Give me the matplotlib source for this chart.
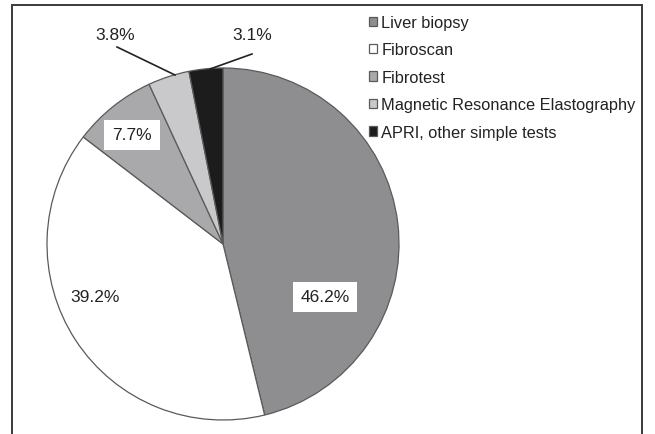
import matplotlib
matplotlib.use("Agg")
import matplotlib.pyplot as plt
from matplotlib.patches import Rectangle

plt.rcParams['font.family'] = ['Liberation Sans', 'DejaVu Sans']

categories = ["Liver biopsy", "Fibroscan", "Fibrotest",
              "Magnetic Resonance Elastography", "APRI, other simple tests"]
values = [46.2, 39.2, 7.7, 3.8, 3.1]
labels = ["46.2%", "39.2%", "7.7%", "3.8%", "3.1%"]
colors = ["#8e8e90", "#ffffff", "#a9a9ab", "#c9c9cb", "#1c1c1c"]

W, H = 655, 435
fig = plt.figure(figsize=(W / 100, H / 100), dpi=100)

# outer frame
fig.patches.append(Rectangle((12 / W, -0.01), (642 - 12) / W, 1 - 6 / H + 0.01,
                             transform=fig.transFigure, fill=False,
                             edgecolor="#3a3a3a", linewidth=1.4))

cx, cy, r = 223, 245, 176
ax = fig.add_axes([(cx - r) / W, (H - cy - r) / H, 2 * r / W, 2 * r / H])
wedges, _ = ax.pie(values, colors=colors, startangle=90, counterclock=False,
                   wedgeprops=dict(edgecolor="#5a5a5a", linewidth=0.9))
ax.set_xlim(-1, 1)
ax.set_ylim(-1, 1)
ax.set_aspect("equal")
ax.axis("off")

def d(px, py):
    return ((px - cx) / r, (cy - py) / r)

fs = 12.5
box = dict(boxstyle="square,pad=0.45", facecolor="white", edgecolor="none")
ax.text(*d(325, 298), labels[0], fontsize=fs, ha="center", va="center", color="#222222", bbox=box)
ax.text(*d(95, 297), labels[1], fontsize=fs, ha="center", va="center", color="#222222")
ax.text(*d(132, 136), labels[2], fontsize=fs, ha="center", va="center", color="#222222", bbox=box)
ax.text(*d(115, 36), labels[3], fontsize=fs, ha="center", va="center", color="#222222")
ax.text(*d(252, 36), labels[4], fontsize=fs, ha="center", va="center", color="#222222")
for (x0, y0), (x1, y1) in [((117, 48), (175, 76)), ((252, 55), (210, 70))]:
    a, b = d(x0, y0), d(x1, y1)
    ax.plot([a[0], b[0]], [a[1], b[1]], color="#222222", linewidth=1.2, clip_on=False)

fig.legend(wedges, categories, loc="upper left", bbox_to_anchor=(369 / W, 1 - 16 / H),
           frameon=False, fontsize=11.8, handlelength=0.5, handleheight=0.5,
           handletextpad=0.25, labelspacing=0.76, borderaxespad=0, borderpad=0)
for t in fig.legends[0].get_texts():
    t.set_color("#222222")

fig.savefig("out.png", dpi=100)
